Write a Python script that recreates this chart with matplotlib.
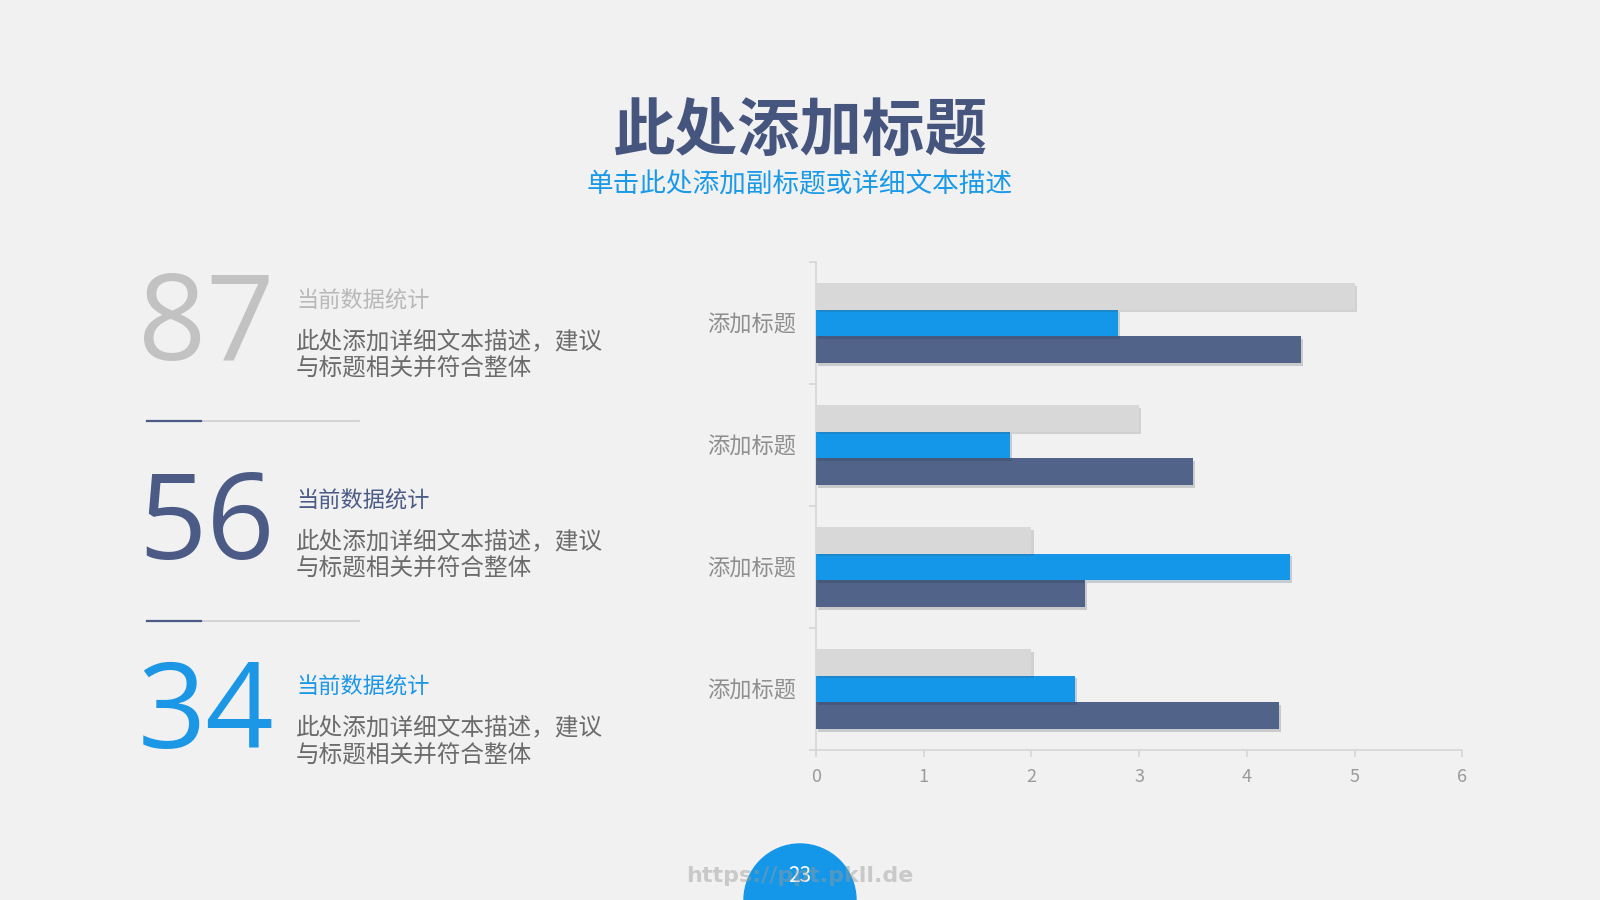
import numpy as np
import matplotlib.pyplot as plt
from matplotlib import patheffects as pe
from matplotlib.patches import Ellipse

plt.rcParams['font.family'] = ['Noto Sans CJK SC', 'DejaVu Sans']

# data (categories bottom -> top, as in the original chart)
categories = ["添加标题", "添加标题", "添加标题", "添加标题"]
series_navy = [4.3, 2.5, 3.5, 4.5]
series_blue = [2.4, 4.4, 1.8, 2.8]
series_gray = [2.0, 2.0, 3.0, 5.0]
x_ticks = [0, 1, 2, 3, 4, 5, 6]

big_numbers = ["87", "56", "34"]
stat_label = "当前数据统计"
desc_lines = ["此处添加详细文本描述，建议", "与标题相关并符合整体"]

title = "此处添加标题"
subtitle = "单击此处添加副标题或详细文本描述"
page_no = "23"

# colours
bg = "#f1f1f2"
navy = "#526389"
blue = "#1497e8"
light = "#d9d8d9"
num_colors = ["#c2c2c2", "#4b5b86", "#1b97e6"]
stat_colors = ["#b8b8b8", "#4b5b86", "#1b97e6"]

W, H = 1600, 900
fig = plt.figure(figsize=(16, 9), dpi=100, facecolor=bg)


def fy(y):
    return 1 - y / H


def fx(x):
    return x / W


# titles
fig.text(0.5, fy(131), title, ha="center", va="center", fontsize=45,
         fontweight="bold", color="#46557e")
fig.text(0.5, fy(185), subtitle, ha="center", va="center", fontsize=19.2,
         color="#1a9ae6")

# left panel
num_base = [360, 559, 748]
stat_y = [301, 501, 687]
desc_y = [[342, 369], [542, 569], [728, 756]]
for i in range(3):
    fig.text(fx(138), fy(num_base[i]), big_numbers[i], ha="left",
             va="baseline", fontsize=86, color=num_colors[i],
             family="Open Sans")
    fig.text(fx(296), fy(stat_y[i]), stat_label, ha="left", va="center",
             fontsize=16, color=stat_colors[i])
    for line, yy in zip(desc_lines, desc_y[i]):
        fig.text(fx(296), fy(yy), line, ha="left", va="center",
                 fontsize=17, color="#6b6b6b")

# divider lines
for yy in [421, 621]:
    fig.add_artist(plt.Line2D([fx(147), fx(359)], [fy(yy), fy(yy)],
                              color="#cfcfd2", lw=1.2))
    fig.add_artist(plt.Line2D([fx(147), fx(201)], [fy(yy), fy(yy)],
                              color="#4b5b86", lw=1.6))

# bar chart
ax = fig.add_axes([0.51, 1 - 750 / H, 0.404, (750 - 262) / H])
ax.set_facecolor("none")
y = np.arange(len(categories))
h = 0.22
shadow = [pe.SimplePatchShadow(offset=(1.5, -2), alpha=0.18), pe.Normal()]
for vals, off, col in [(series_navy, -h, navy), (series_blue, 0, blue),
                       (series_gray, h, light)]:
    bars = ax.barh(y + off, vals, height=h, color=col, zorder=3)
    for b in bars:
        b.set_path_effects(shadow)

ax.set_xlim(0, 6)
ax.set_ylim(-0.5, 3.5)
ax.set_xticks(x_ticks)
ax.set_xticklabels([str(t) for t in x_ticks])
ax.set_yticks(y)
ax.set_yticklabels(categories)
ax.set_yticks(np.arange(-0.5, 4.0, 1.0), minor=True)

for s in ["top", "right"]:
    ax.spines[s].set_visible(False)
for s in ["left", "bottom"]:
    ax.spines[s].set_color("#d6d6d8")
    ax.spines[s].set_linewidth(1.2)

ax.tick_params(axis="y", which="major", length=0, pad=14, labelsize=16,
               labelcolor="#8e8e8e")
ax.tick_params(axis="y", which="minor", length=5, color="#d6d6d8", width=1.2)
ax.tick_params(axis="x", length=5, color="#d6d6d8", width=1.2, pad=8,
               labelsize=13, labelcolor="#9a9a9a")

# page number badge
fig.add_artist(Ellipse((fx(800), fy(900)), width=112 / W, height=112 / H,
                       transform=fig.transFigure, color=blue, zorder=5))
fig.text(fx(800), fy(876), page_no, ha="center", va="center", fontsize=15,
         color="white", zorder=6)
fig.text(fx(800), fy(876), "https://ppt.pkll.de", ha="center", va="center",
         fontsize=16, fontweight="bold", color="#9a9a9a", alpha=0.45,
         family="DejaVu Sans", zorder=7)

fig.savefig("out.png", dpi=100, facecolor=bg)
